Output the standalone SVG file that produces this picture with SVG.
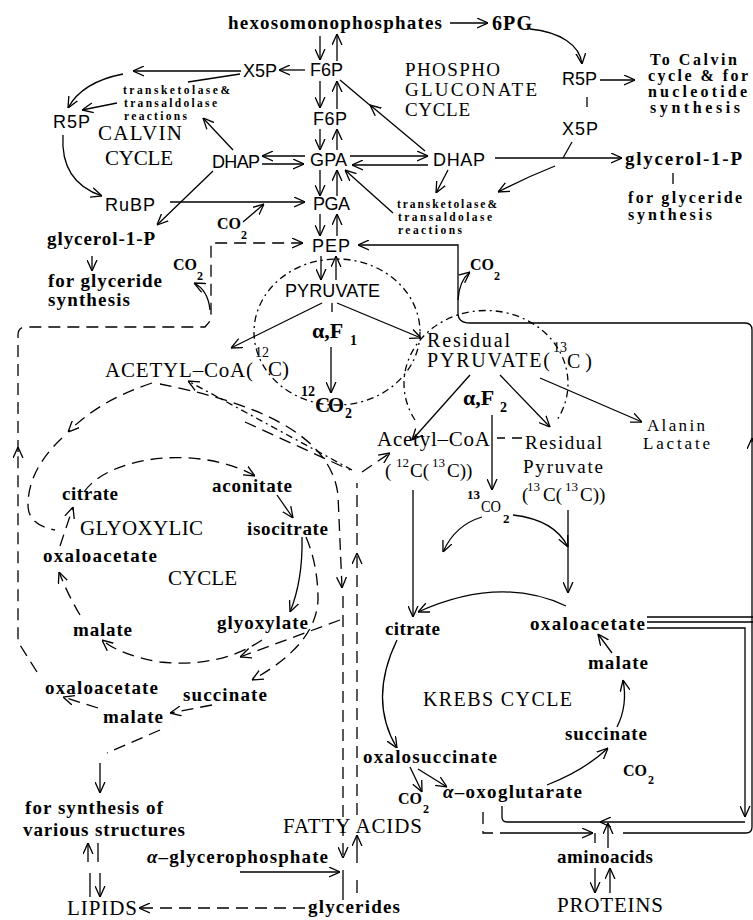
<svg xmlns="http://www.w3.org/2000/svg" width="753" height="920" viewBox="0 0 753 920">
<defs>
<style>
text{fill:#000}
.b{font-family:"Liberation Serif","Times New Roman",serif;font-weight:bold;font-size:19px}
.r{font-family:"Liberation Serif","Times New Roman",serif;font-size:21px}
.s{font-family:"Liberation Sans",Arial,sans-serif;font-size:18px}
.t{font-family:"Liberation Serif","Times New Roman",serif;font-weight:bold;font-size:11.5px}
.l{fill:none;stroke:#000;stroke-width:1.3}
.d{stroke-dasharray:12 7}
.dd{stroke-dasharray:7 4 2 4}
.a{marker-end:url(#ah)}
</style>
<marker id="ah" viewBox="0 0 10 10" refX="10" refY="5" markerWidth="11" markerHeight="11" markerUnits="userSpaceOnUse" orient="auto"><path d="M0,0.5 L10,5 L0,9.5" fill="none" stroke="#000" stroke-width="1.2" stroke-dasharray="none"/></marker>
</defs>
<rect width="753" height="920" fill="#fff"/>

<g id="connectors">
<!-- top -->
<path class="l a" d="M450,23 L488,23"/>
<path class="l a" d="M530,29 C560,32 580,45 582,64"/>
<path class="l a" d="M600,80 L635,80"/>
<path class="l" d="M587,97 L587,107"/>
<path class="l" d="M673,173 L673,184"/>
<!-- central column -->
<path class="l a" d="M320,36 L320,60"/>
<path class="l a" d="M337,61 L337,34"/>
<path class="l a" d="M320,81 L320,108"/>
<path class="l a" d="M337,109 L337,81"/>
<path class="l a" d="M320,129 L320,150"/>
<path class="l a" d="M337,150 L337,129"/>
<path class="l a" d="M320,170 L320,196"/>
<path class="l a" d="M337,196 L337,170"/>
<path class="l a" d="M320,214 L320,236"/>
<path class="l a" d="M337,236 L337,214"/>
<path class="l a" d="M321,256 L321,280"/>
<path class="l a" d="M336,280 L336,256"/>
<!-- Calvin side -->
<path class="l a" d="M305,70 L279,70"/>
<path class="l a" d="M241,71 L133,71"/>
<path class="l a" d="M123,74 Q82,82 68,108"/>
<path class="l" d="M240,74 L188,82"/>
<path class="l a" d="M117,103 L82,110"/>
<path class="l a" d="M233,150 L203,118"/>
<path class="l a" d="M63,135 Q60,182 102,196"/>
<path class="l a" d="M170,202 L305,202"/>
<path class="l a" d="M213,171 L157,225"/>
<path class="l a" d="M243,222 L264,204"/>
<path class="l a" d="M305,156 L262,156"/>
<path class="l a" d="M262,164 L304,164"/>
<path class="l a" d="M92,256 L92,271"/>
<!-- phosphogluconate side -->
<path class="l a" d="M350,156 L428,156"/>
<path class="l a" d="M428,165 L352,165"/>
<path class="l a" d="M425,151 L370,105"/>
<path class="l" d="M372,107 L340,80"/>
<path class="l a" d="M495,158 L622,158"/>
<path class="l" d="M572,142 L563,158"/>
<path class="l a" d="M555,166 Q525,178 498,192"/>
<path class="l a" d="M448,170 L436,193"/>
<path class="l a" d="M393,213 L345,170"/>
<!-- PEP / pyruvate -->
<path class="l d a" d="M37,672 L20,645 L18,640 L18,447"/>
<path class="l d a" d="M18,452 L18,335 Q18,327 26,327 L205,327 L211,320 L211,243 L303,243"/>
<path class="l a" d="M210,310 Q208,290 194,283"/>
<path class="l a" d="M458,313 L458,245 L358,245"/>
<path class="l a" d="M458,300 Q459,281 470,272"/>
<path class="l a" d="M623,833 L746,833 Q752,833 752,827 L752,438"/>
<path class="l" d="M752,442 L752,330 Q752,323 745,323 L470,323 Q458,323 458,313"/>
<ellipse class="l dd" cx="337" cy="332" rx="83" ry="73"/>
<path class="l dd" d="M415,420 A82,73 0 1 1 557,420"/>
<path class="l a" d="M322,303 L231,348"/>
<path class="l a" d="M337,303 L421,338"/>
<path class="l" d="M332,303 L332,312"/>
<path class="l a" d="M331,347 L331,393"/>
<path class="l a" d="M470,375 L412,440"/>
<path class="l a" d="M500,375 L550,427"/>
<path class="l a" d="M540,378 L642,422"/>
<path class="l a" d="M492,415 L492,490"/>
<path class="l" d="M497,438 L505,438 M512,438 L522,438"/>
<!-- acetyl-CoA / fatty acids -->
<path class="l dd a" d="M352,470 L188,381"/>
<path class="l d a" d="M160,384 C230,398 330,425 338,495 L342,588"/>
<path class="l d" d="M245,422 L350,470"/>
<path class="l d a" d="M362,472 L390,453"/>
<path class="l d a" d="M343,596 L343,858"/>
<path class="l d a" d="M357,815 L357,553"/>
<path class="l d" d="M357,545 L357,483"/>
<path class="l a" d="M357,863 L357,835"/>
<path class="l" d="M357,880 L357,893"/>
<path class="l" d="M343,870 L343,900"/>
<path class="l a" d="M240,872 L340,872"/>
<path class="l d a" d="M305,908 L139,908"/>
<path class="l a" d="M88,862 L88,843"/>
<path class="l" d="M98,843 L98,862"/>
<path class="l" d="M90,873 L90,897"/>
<path class="l a" d="M100,873 L100,897"/>
<!-- glyoxylic cycle -->
<path class="l d a" d="M152,383 Q100,400 68,432"/>
<path class="l d" d="M62,438 Q28,470 28,505 Q28,525 55,530"/>
<path class="l d a" d="M60,546 L73,507"/>
<path class="l d a" d="M84,492 C110,455 200,445 255,476"/>
<path class="l a" d="M277,495 L293,518"/>
<path class="l a" d="M302,537 Q303,580 290,612"/>
<path class="l d a" d="M306,537 Q318,565 318,600 Q316,645 252,680"/>
<path class="l d a" d="M262,640 Q220,668 160,662 Q120,655 102,640"/>
<path class="l d a" d="M80,615 Q68,595 59,572"/>
<path class="l d a" d="M340,620 L240,657"/>
<path class="l d a" d="M212,705 L170,713"/>
<path class="l d a" d="M98,708 L63,697"/>
<path class="l d" d="M160,730 L107,753"/>
<path class="l a" d="M100,763 L100,793"/>
<!-- Krebs -->
<path class="l a" d="M413,490 L413,617"/>
<path class="l a" d="M482,517 Q455,525 443,552"/>
<path class="l a" d="M513,515 Q555,520 568,547"/>
<path class="l a" d="M568,510 L568,593"/>
<path class="l a" d="M566,606 Q500,575 418,612"/>
<path class="l a" d="M397,640 Q368,700 397,748"/>
<path class="l a" d="M410,767 L422,792"/>
<path class="l a" d="M418,769 L447,787"/>
<path class="l a" d="M547,785 Q585,770 608,748"/>
<path class="l a" d="M617,727 Q628,705 623,680"/>
<path class="l a" d="M612,653 L598,634"/>
<path class="l" d="M647,617 L753,617 M647,622 L753,622"/>
<path class="l a" d="M647,628 L745,628 L745,817"/>
<path class="l a" d="M745,822 L600,822"/>
<path class="l" d="M602,822 L507,822 Q502,822 502,817 L502,806"/>
<path class="l d" d="M483,812 L483,833 L500,833"/>
<path class="l a" d="M500,833 L593,833"/>
<path class="l" d="M595,833 L595,843"/>
<path class="l a" d="M608,848 L608,823"/>
<path class="l a" d="M595,868 L595,893"/>
<path class="l a" d="M610,893 L610,868"/>
</g>

<g id="n-hexo"><text class="b" x="228" y="29" textLength="214">hexosomonophosphates</text></g>
<g id="n-6pg"><text class="b" x="492" y="30" textLength="40" style="font-size:20px">6PG</text></g>
<g id="n-f6p1"><text class="s" x="310" y="76" textLength="33">F6P</text></g>
<g id="n-x5p1"><text class="s" x="243" y="77" textLength="34">X5P</text></g>
<g id="n-f6p2"><text class="s" x="313" y="125" textLength="34">F6P</text></g>
<g id="n-gpa"><text class="s" x="310" y="166" textLength="37">GPA</text></g>
<g id="n-dhap1"><text class="s" x="212" y="168" textLength="48">DHAP</text></g>
<g id="n-dhap2"><text class="s" x="433" y="166" textLength="52">DHAP</text></g>
<g id="n-r5p1"><text class="s" x="53" y="128" textLength="37">R5P</text></g>
<g id="n-rubp"><text class="s" x="105" y="211" textLength="50">RuBP</text></g>
<g id="n-pga"><text class="s" x="313" y="210" textLength="37">PGA</text></g>
<g id="n-pep"><text class="s" x="312" y="252" textLength="38">PEP</text></g>
<g id="n-pyruvate"><text class="s" x="285" y="297" textLength="95">PYRUVATE</text></g>
<g id="n-r5p2"><text class="s" x="562" y="85" textLength="35">R5P</text></g>
<g id="n-x5p2"><text class="s" x="562" y="135" textLength="36">X5P</text></g>
<g id="n-calvin"><text class="r" x="98" y="140" textLength="84">CALVIN</text><text class="r" x="105" y="165" textLength="68">CYCLE</text></g>
<g id="n-phospho"><text class="r" style="font-size:19px" x="405" y="76" textLength="95">PHOSPHO</text><text class="r" style="font-size:19px" x="405" y="96" textLength="132">GLUCONATE</text><text class="r" style="font-size:19px" x="405" y="116" textLength="65">CYCLE</text></g>
<g id="n-tk1"><text class="t" x="123" y="94" textLength="107">transketolase&amp;</text><text class="t" x="124" y="107" textLength="93">transaldolase</text><text class="t" x="124" y="120" textLength="63">reactions</text></g>
<g id="n-tk2"><text class="t" x="397" y="208" textLength="100">transketolase&amp;</text><text class="t" x="398" y="221" textLength="94">transaldolase</text><text class="t" x="398" y="234" textLength="64">reactions</text></g>
<g id="n-tocalvin"><text class="b" style="font-size:16px" x="650" y="65" textLength="87">To Calvin</text><text class="b" style="font-size:16px" x="648" y="81" textLength="100">cycle &amp; for</text><text class="b" style="font-size:16px" x="648" y="97" textLength="99">nucleotide</text><text class="b" style="font-size:16px" x="650" y="113" textLength="90">synthesis</text></g>
<g id="n-glycerol1"><text class="b" x="625" y="165" textLength="117">glycerol-1-P</text></g>
<g id="n-glyceride1"><text class="b" style="font-size:16px" x="628" y="203" textLength="114">for glyceride</text><text class="b" style="font-size:16px" x="628" y="220" textLength="84">synthesis</text></g>
<g id="n-glycerol2"><text class="b" x="47" y="245" textLength="108">glycerol-1-P</text></g>
<g id="n-glyceride2"><text class="b" x="48" y="287" textLength="114">for glyceride</text><text class="b" x="48" y="306" textLength="82">synthesis</text></g>
<g id="n-co2a"><text class="b" style="font-size:16px" x="217" y="229">CO</text><text class="b" style="font-size:12px" x="241" y="239">2</text></g>
<g id="n-co2b"><text class="b" style="font-size:16px" x="173" y="270">CO</text><text class="b" style="font-size:12px" x="197" y="280">2</text></g>
<g id="n-co2c"><text class="b" style="font-size:16px" x="470" y="270">CO</text><text class="b" style="font-size:12px" x="494" y="280">2</text></g>
<g id="n-acetylcoa"><text class="r" x="105" y="377" textLength="148">ACETYL–CoA(</text><text class="r" style="font-size:14px" x="255" y="357">12</text><text class="r" x="268" y="376">C)</text></g>
<g id="n-alphaf1"><text class="b" style="font-size:22px" x="312" y="338">α,F</text><text class="b" style="font-size:14px" x="350" y="345">1</text></g>
<g id="n-12co2"><text class="b" style="font-size:14px" x="301" y="396">12</text><text class="b" style="font-size:21px" x="315" y="412" textLength="29">CO</text><text class="b" style="font-size:14px" x="345" y="418">2</text></g>
<g id="n-respyruvate"><text class="r" style="font-size:20px" x="427" y="347" textLength="83">Residual</text><text class="r" style="font-size:20px" x="427" y="367" textLength="123">PYRUVATE(</text><text class="r" style="font-size:14px" x="553" y="352">13</text><text class="r" style="font-size:20px" x="567" y="368">C )</text></g>
<g id="n-alphaf2"><text class="b" style="font-size:22px" x="463" y="405">α,F</text><text class="b" style="font-size:14px" x="500" y="412">2</text></g>
<g id="n-acetylcoa2"><text class="r" x="377" y="446" textLength="113">Acetyl–CoA</text><text class="r" style="font-size:19px"><tspan x="385" y="477">(</tspan><tspan x="396" y="467" style="font-size:13px">12</tspan><tspan x="410" y="477">C(</tspan><tspan x="432" y="467" style="font-size:13px">13</tspan><tspan x="447" y="477">C))</tspan></text></g>
<g id="n-respyruvate2"><text class="r" style="font-size:19px" x="525" y="449" textLength="77">Residual</text><text class="r" style="font-size:19px" x="523" y="473" textLength="80">Pyruvate</text><text class="r" style="font-size:19px"><tspan x="522" y="501">(</tspan><tspan x="527" y="491" style="font-size:13px">13</tspan><tspan x="543" y="501">C(</tspan><tspan x="565" y="491" style="font-size:13px">13</tspan><tspan x="580" y="501">C))</tspan></text></g>
<g id="n-alanin"><text class="r" style="font-size:17px" x="647" y="431" textLength="58">Alanin</text><text class="r" style="font-size:17px" x="643" y="449" textLength="67">Lactate</text></g>
<g id="n-13co2"><text class="b" style="font-size:13px" x="467" y="499">13</text><text class="r" style="font-size:17px" x="481" y="512" textLength="20" lengthAdjust="spacingAndGlyphs">CO</text><text class="b" style="font-size:13px" x="503" y="523">2</text></g>
<g id="n-glyoxylic"><text class="r" x="80" y="535" textLength="123">GLYOXYLIC</text><text class="r" x="168" y="585" textLength="69">CYCLE</text></g>
<g id="n-citrate1"><text class="b" x="62" y="500" textLength="56">citrate</text></g>
<g id="n-aconitate"><text class="b" x="212" y="492" textLength="80">aconitate</text></g>
<g id="n-isocitrate"><text class="b" x="247" y="535" textLength="81">isocitrate</text></g>
<g id="n-oxaloacetate1"><text class="b" x="43" y="562" textLength="114">oxaloacetate</text></g>
<g id="n-malate1"><text class="b" x="73" y="636" textLength="59">malate</text></g>
<g id="n-glyoxylate"><text class="b" x="217" y="629" textLength="91">glyoxylate</text></g>
<g id="n-oxaloacetate2"><text class="b" x="45" y="694" textLength="113">oxaloacetate</text></g>
<g id="n-succinate1"><text class="b" x="183" y="701" textLength="84">succinate</text></g>
<g id="n-malate2"><text class="b" x="103" y="723" textLength="60">malate</text></g>
<g id="n-synthesis"><text class="b" x="25" y="814" textLength="138">for synthesis of</text><text class="b" x="23" y="836" textLength="162">various structures</text></g>
<g id="n-lipids"><text class="r" x="67" y="915" textLength="70">LIPIDS</text></g>
<g id="n-agp"><text class="b" x="147" y="863" textLength="181"><tspan style="font-style:italic">α</tspan>–glycerophosphate</text></g>
<g id="n-glycerides"><text class="b" x="308" y="913" textLength="92">glycerides</text></g>
<g id="n-fattyacids"><text class="r" x="283" y="833" textLength="139">FATTY ACIDS</text></g>
<g id="n-krebs"><text class="r" style="font-size:20px" x="423" y="706" textLength="149">KREBS CYCLE</text></g>
<g id="n-citrate2"><text class="b" x="385" y="635" textLength="55">citrate</text></g>
<g id="n-oxaloacetate3"><text class="b" x="530" y="630" textLength="115">oxaloacetate</text></g>
<g id="n-malate3"><text class="b" x="588" y="669" textLength="60">malate</text></g>
<g id="n-succinate2"><text class="b" x="565" y="740" textLength="82">succinate</text></g>
<g id="n-oxalosuccinate"><text class="b" x="363" y="763" textLength="134">oxalosuccinate</text></g>
<g id="n-co2k"><text class="b" style="font-size:16px" x="398" y="804">CO</text><text class="b" style="font-size:12px" x="423" y="813">2</text></g>
<g id="n-oxoglutarate"><text class="b" x="443" y="798" textLength="139"><tspan style="font-style:italic">α</tspan>–oxoglutarate</text></g>
<g id="n-co2s"><text class="b" style="font-size:16px" x="623" y="776">CO</text><text class="b" style="font-size:12px" x="648" y="784">2</text></g>
<g id="n-aminoacids"><text class="b" x="557" y="863" textLength="96">aminoacids</text></g>
<g id="n-proteins"><text class="r" x="557" y="912" textLength="106">PROTEINS</text></g>
</svg>
